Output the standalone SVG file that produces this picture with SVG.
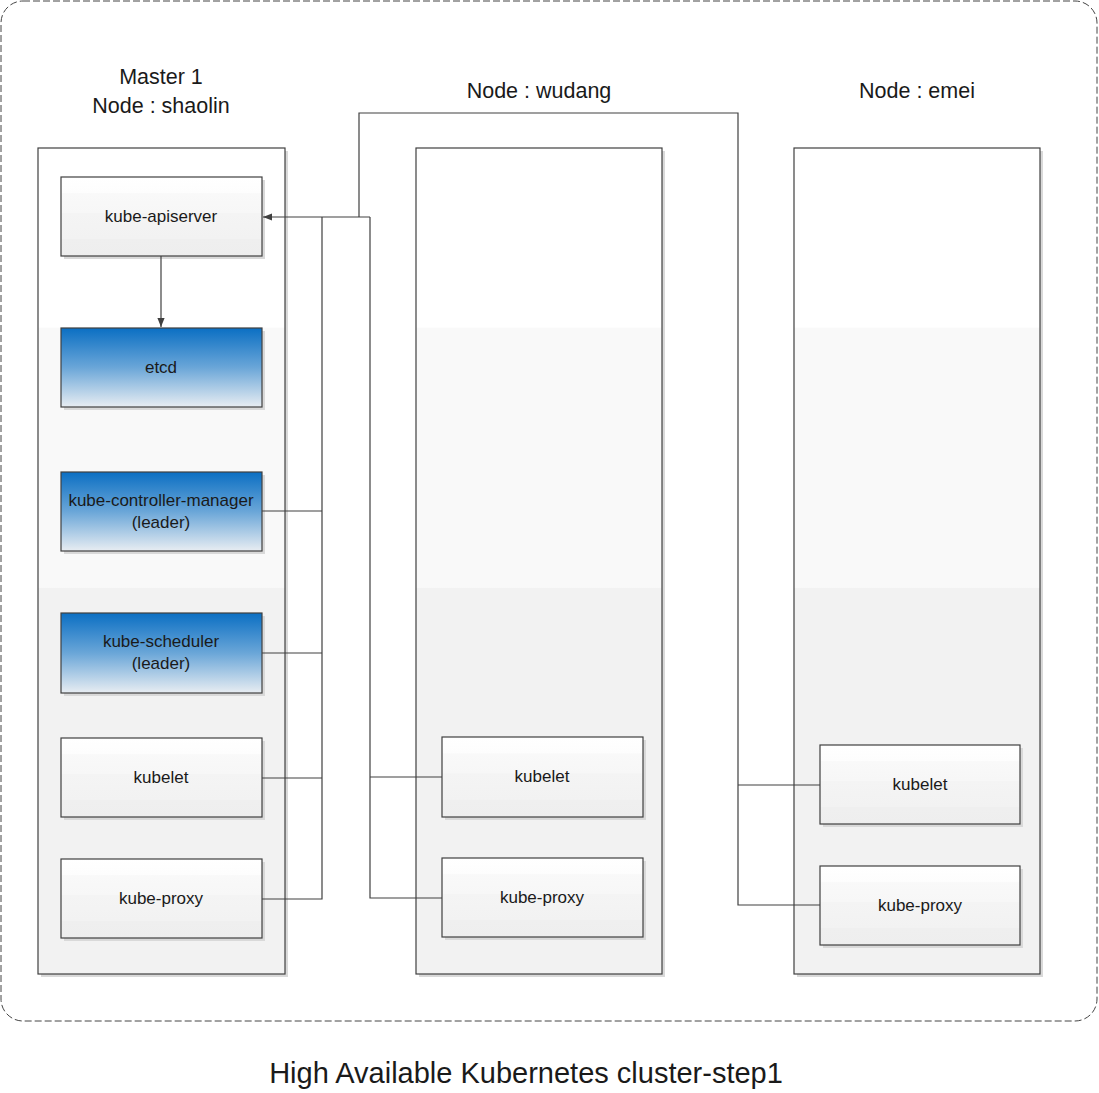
<svg xmlns="http://www.w3.org/2000/svg" width="1099" height="1093" viewBox="0 0 1099 1093">
<style>
text{font-family:"Liberation Sans","DejaVu Sans",sans-serif;fill:#1a1a1a;text-anchor:middle}
.hdr{font-size:21.5px}
.lbl{font-size:17px}
.panel{fill:url(#panelG);stroke:#404040;stroke-width:1.2}
.box{fill:url(#boxG);stroke:#404040;stroke-width:1.2}
.blue{fill:url(#blueG);stroke:#404040;stroke-width:1.2}
.sh{fill:#d9d9d9}
.cn{fill:none;stroke:#404040;stroke-width:1.2}
</style>
<defs>
<linearGradient id="panelG" x1="0" y1="0" x2="0" y2="1">
<stop offset="0" stop-color="#ffffff"/><stop offset="0.217" stop-color="#ffffff"/>
<stop offset="0.218" stop-color="#f9f9f9"/><stop offset="0.532" stop-color="#f9f9f9"/>
<stop offset="0.533" stop-color="#f2f2f2"/><stop offset="1" stop-color="#f2f2f2"/>
</linearGradient>
<linearGradient id="boxG" x1="0" y1="0" x2="0" y2="1">
<stop offset="0" stop-color="#ffffff"/><stop offset="0.2" stop-color="#fdfdfd"/>
<stop offset="0.21" stop-color="#f9f9f9"/><stop offset="0.45" stop-color="#f7f7f7"/>
<stop offset="0.46" stop-color="#f4f4f4"/><stop offset="0.78" stop-color="#f2f2f2"/>
<stop offset="0.79" stop-color="#efefef"/><stop offset="1" stop-color="#eeeeee"/>
</linearGradient>
<linearGradient id="blueG" x1="0" y1="0" x2="0" y2="1">
<stop offset="0" stop-color="#0b6fc3"/><stop offset="0.5" stop-color="#6aa6d8"/>
<stop offset="1" stop-color="#e8edf2"/>
</linearGradient>
<marker id="arr" viewBox="0 0 10 10" refX="10" refY="5" markerWidth="9" markerHeight="9" markerUnits="userSpaceOnUse" orient="auto">
<path d="M0,1 L10,5 L0,9 z" fill="#404040"/>
</marker>
</defs>
<rect x="1" y="1" width="1096" height="1020" rx="22" fill="#ffffff" stroke="#444" stroke-width="1" stroke-dasharray="7,3"/>

<g id="master1">
<text class="hdr" x="161" y="84">Master 1</text>
<text class="hdr" x="161" y="113">Node : shaolin</text>
<rect class="sh" x="41" y="151" width="247" height="826"/>
<rect class="panel" x="38" y="148" width="247" height="826"/>
</g>
<g id="wudang">
<text class="hdr" x="539" y="98">Node : wudang</text>
<rect class="sh" x="419" y="151" width="246" height="826"/>
<rect class="panel" x="416" y="148" width="246" height="826"/>
</g>
<g id="emei">
<text class="hdr" x="917" y="98">Node : emei</text>
<rect class="sh" x="797" y="151" width="246" height="826"/>
<rect class="panel" x="794" y="148" width="246" height="826"/>
</g>

<g id="kube-apiserver"><rect class="sh" x="64" y="180" width="201" height="79"/><rect class="box" x="61" y="177" width="201" height="79"/><text class="lbl" x="161" y="222">kube-apiserver</text></g>
<g id="etcd"><rect class="sh" x="64" y="331" width="201" height="79"/><rect class="blue" x="61" y="328" width="201" height="79"/><text class="lbl" x="161" y="373">etcd</text></g>
<g id="kube-controller-manager"><rect class="sh" x="64" y="475" width="201" height="79"/><rect class="blue" x="61" y="472" width="201" height="79"/><text class="lbl" x="161" y="506">kube-controller-manager</text><text class="lbl" x="161" y="528">(leader)</text></g>
<g id="kube-scheduler"><rect class="sh" x="64" y="616" width="201" height="80"/><rect class="blue" x="61" y="613" width="201" height="80"/><text class="lbl" x="161" y="647">kube-scheduler</text><text class="lbl" x="161" y="669">(leader)</text></g>
<g id="kubelet-shaolin"><rect class="sh" x="64" y="741" width="201" height="79"/><rect class="box" x="61" y="738" width="201" height="79"/><text class="lbl" x="161" y="783">kubelet</text></g>
<g id="kube-proxy-shaolin"><rect class="sh" x="64" y="862" width="201" height="79"/><rect class="box" x="61" y="859" width="201" height="79"/><text class="lbl" x="161" y="904">kube-proxy</text></g>

<g id="kubelet-wudang"><rect class="sh" x="445" y="740" width="201" height="80"/><rect class="box" x="442" y="737" width="201" height="80"/><text class="lbl" x="542" y="782">kubelet</text></g>
<g id="kube-proxy-wudang"><rect class="sh" x="445" y="861" width="201" height="79"/><rect class="box" x="442" y="858" width="201" height="79"/><text class="lbl" x="542" y="903">kube-proxy</text></g>

<g id="kubelet-emei"><rect class="sh" x="823" y="748" width="200" height="79"/><rect class="box" x="820" y="745" width="200" height="79"/><text class="lbl" x="920" y="790">kubelet</text></g>
<g id="kube-proxy-emei"><rect class="sh" x="823" y="869" width="200" height="79"/><rect class="box" x="820" y="866" width="200" height="79"/><text class="lbl" x="920" y="911">kube-proxy</text></g>

<g id="connectors">
<path class="cn" d="M161,256 V327" marker-end="url(#arr)"/>
<path class="cn" d="M370,217 H263" marker-end="url(#arr)"/>
<path class="cn" d="M322,217 V899 H262"/>
<path class="cn" d="M262,511 H322 M262,653 H322 M262,778 H322"/>
<path class="cn" d="M370,217 V898 H442 M370,777 H442"/>
<path class="cn" d="M359,217 V113 H738 V905 H820 M738,785 H820"/>
</g>

<text x="526" y="1083" style="font-size:29px">High Available Kubernetes cluster-step1</text>
</svg>
